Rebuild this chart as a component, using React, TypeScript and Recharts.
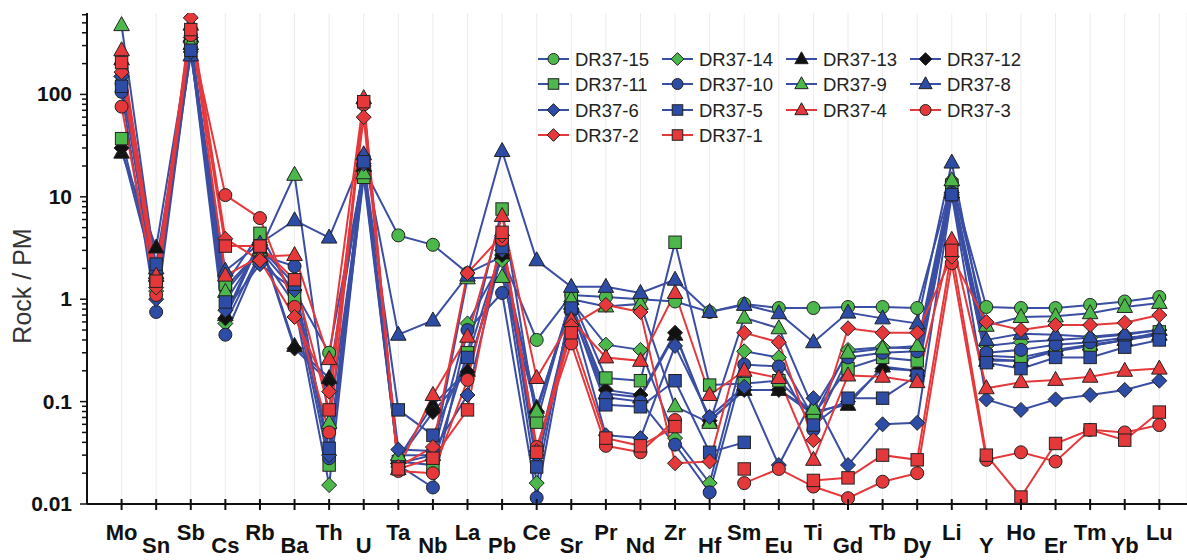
import { LineChart, Line, XAxis, YAxis, CartesianGrid } from "recharts";

const elements = ["Mo","Sn","Sb","Cs","Rb","Ba","Th","U","Ta","Nb","La","Pb","Ce","Sr","Pr","Nd","Zr","Hf","Sm","Eu","Ti","Gd","Tb","Dy","Li","Y","Ho","Er","Tm","Yb","Lu"];

const dr37_15 = [128, 1.4, 330, 1.3, 3.0, 1.2, 0.3, 19, 4.2, 3.4, 1.8, 2.6, 0.4, 1.1, 1.05, 1.0, 0.95, 0.75, 0.9, 0.82, 0.82, 0.84, 0.84, 0.82, 14, 0.84, 0.82, 0.82, 0.88, 0.95, 1.05];
const dr37_14 = [150, 1.2, 320, 0.58, 2.8, 0.9, 0.0153, 18, 0.025, 0.03, 0.58, 2.4, 0.016, 0.95, 0.36, 0.32, 0.044, 0.016, 0.31, 0.27, 0.07, 0.32, 0.34, 0.33, 13, 0.35, 0.38, 0.4, 0.42, 0.45, 0.5];
const dr37_13 = [27, 3.2, 370, 0.7, 3.8, 0.35, 0.17, 20, 0.028, 0.093, 0.2, 2.8, 0.087, 0.9, 0.12, 0.11, 0.45, 0.065, 0.13, 0.13, 0.08, 0.093, 0.22, 0.2, 11, 0.25, 0.25, 0.32, 0.36, 0.4, 0.45];
const dr37_12 = [30, 1.5, 360, 0.65, 3.6, 0.33, 0.155, 20, 0.027, 0.079, 0.195, 2.7, 0.08, 0.9, 0.13, 0.116, 0.47, 0.065, 0.13, 0.13, 0.075, 0.1, 0.21, 0.2, 11, 0.26, 0.25, 0.31, 0.35, 0.4, 0.45];
const dr37_11 = [37, 1.6, 300, 1.4, 4.4, 1.03, 0.024, 15.5, 0.026, 0.024, 0.3, 7.6, 0.063, 1.05, 0.17, 0.16, 3.6, 0.145, 0.15, 0.16, 0.075, 0.21, 0.27, 0.25, 13, 0.28, 0.27, 0.32, 0.35, 0.4, 0.48];
const dr37_10 = [106, 0.75, 280, 0.45, 2.7, 2.1, 0.028, 24, 0.024, 0.0145, 0.5, 1.15, 0.0115, 0.78, 0.11, 0.1, 0.038, 0.013, 0.23, 0.22, 0.053, 0.27, 0.3, 0.31, 11, 0.3, 0.32, 0.36, 0.38, 0.42, 0.45];
const dr37_9 = [475, 1.8, 310, 1.18, 3.0, 16.4, 0.062, 17, 0.03, 0.03, 1.6, 1.65, 0.08, 1.0, 0.85, 0.9, 0.09, 0.062, 0.66, 0.52, 0.085, 0.3, 0.33, 0.35, 14.5, 0.55, 0.67, 0.68, 0.73, 0.84, 0.92];
const dr37_8 = [220, 2.0, 240, 1.9, 3.5, 5.9, 4.0, 26, 0.45, 0.62, 1.7, 28, 2.4, 1.32, 1.32, 1.15, 1.55, 0.75, 0.88, 0.73, 0.38, 0.74, 0.65, 0.58, 21.6, 0.4, 0.46, 0.45, 0.43, 0.46, 0.5];
const dr37_6 = [150, 1.0, 260, 0.78, 2.2, 1.23, 0.03, 21, 0.034, 0.033, 0.116, 3.0, 0.03, 0.75, 0.047, 0.044, 0.35, 0.071, 0.14, 0.024, 0.108, 0.024, 0.06, 0.062, 10.5, 0.105, 0.083, 0.105, 0.116, 0.13, 0.16];
const dr37_5 = [120, 2.2, 270, 0.94, 3.2, 1.4, 0.035, 22, 0.083, 0.047, 0.27, 3.2, 0.023, 0.82, 0.093, 0.089, 0.16, 0.032, 0.04, null, 0.059, 0.108, 0.108, 0.18, 10.5, 0.24, 0.21, 0.27, 0.27, 0.34, 0.4];
const dr37_4 = [270, 1.7, 480, 1.7, 2.6, 2.7, 0.26, 92, 0.022, 0.116, 0.43, 6.5, 0.17, 0.63, 0.27, 0.25, 1.15, 0.116, 0.2, 0.17, 0.027, 0.18, 0.175, 0.155, 3.8, 0.135, 0.155, 0.163, 0.175, 0.2, 0.21];
const dr37_3 = [76, 1.1, 380, 10.4, 6.2, 0.84, 0.05, 80, 0.021, 0.02, 0.163, 3.8, 0.036, 0.37, 0.037, 0.032, 0.066, null, 0.016, 0.022, 0.0148, 0.0114, 0.0165, 0.02, 2.25, 0.027, 0.032, 0.026, 0.053, 0.05, 0.059];
const dr37_2 = [165, 1.3, 560, 3.9, 2.4, 0.67, 0.125, 60, 0.023, 0.036, 1.8, 4.2, 0.033, 0.55, 0.88, 0.75, 0.025, 0.026, 0.47, 0.38, 0.042, 0.52, 0.47, 0.47, 2.6, 0.6, 0.5, 0.56, 0.56, 0.59, 0.7];
const dr37_1 = [205, 1.5, 430, 3.3, 3.3, 1.55, 0.083, 85, 0.022, 0.028, 0.083, 4.5, 0.032, 0.47, 0.044, 0.037, 0.057, null, 0.022, null, 0.017, 0.018, 0.03, 0.027, 3.0, 0.03, 0.0117, 0.039, 0.053, 0.042, 0.079];

const yMajor = [0.01, 0.1, 1, 10, 100];
const yTicks = [-2, -1, 0, 1, 2].flatMap((d) =>
  [1, 2, 3, 4, 5, 6, 7, 8, 9].map((m) => +(m * Math.pow(10, d)).toPrecision(3))
).filter((v) => v <= 600);

const BLUE = "#3a4ea3";
const RED = "#e5383b";
const GREEN = "#4cb74a";
const BFILL = "#2d4ca5";
const BLACK = "#111";

const series = [
  { name: "DR37-15", values: dr37_15, line: BLUE, fill: GREEN, shape: "circle" },
  { name: "DR37-14", values: dr37_14, line: BLUE, fill: GREEN, shape: "diamond" },
  { name: "DR37-13", values: dr37_13, line: BLUE, fill: BLACK, shape: "triangle" },
  { name: "DR37-12", values: dr37_12, line: BLUE, fill: BLACK, shape: "diamond" },
  { name: "DR37-11", values: dr37_11, line: BLUE, fill: GREEN, shape: "square" },
  { name: "DR37-10", values: dr37_10, line: BLUE, fill: BFILL, shape: "circle" },
  { name: "DR37-9", values: dr37_9, line: BLUE, fill: GREEN, shape: "triangle" },
  { name: "DR37-8", values: dr37_8, line: BLUE, fill: BFILL, shape: "triangle" },
  { name: "DR37-6", values: dr37_6, line: BLUE, fill: BFILL, shape: "diamond" },
  { name: "DR37-5", values: dr37_5, line: BLUE, fill: BFILL, shape: "square" },
  { name: "DR37-4", values: dr37_4, line: RED, fill: RED, shape: "triangle" },
  { name: "DR37-3", values: dr37_3, line: RED, fill: RED, shape: "circle" },
  { name: "DR37-2", values: dr37_2, line: RED, fill: RED, shape: "diamond" },
  { name: "DR37-1", values: dr37_1, line: RED, fill: RED, shape: "square" },
];

const data = elements.map((el, i) => {
  const row: any = { x: i + 1, el };
  series.forEach((s) => {
    row[s.name] = s.values[i];
  });
  return row;
});

const FONT = "'Liberation Sans', Arial, sans-serif";

function Marker({ shape, cx, cy, fill, s = 1 }: any) {
  const stroke = "#222";
  if (shape === "circle") {
    return <circle cx={cx} cy={cy} r={6.5 * s} fill={fill} stroke={stroke} strokeWidth={1} />;
  }
  if (shape === "square") {
    const h = 6.2 * s;
    return <rect x={cx - h} y={cy - h} width={2 * h} height={2 * h} fill={fill} stroke={stroke} strokeWidth={1} />;
  }
  if (shape === "diamond") {
    const h = 7.5 * s;
    return (
      <polygon
        points={`${cx},${cy - h} ${cx + h},${cy} ${cx},${cy + h} ${cx - h},${cy}`}
        fill={fill}
        stroke={stroke}
        strokeWidth={1}
      />
    );
  }
  const w = 7.8 * s;
  return (
    <polygon
      points={`${cx},${cy - 8.5 * s} ${cx + w},${cy + 5.5 * s} ${cx - w},${cy + 5.5 * s}`}
      fill={fill}
      stroke={stroke}
      strokeWidth={1}
    />
  );
}

const XTick = ({ x, y, payload }: any) => {
  const i = payload.value - 1;
  const upper = i % 2 === 0;
  return (
    <g>
      <line x1={x} x2={x} y1={y - 5} y2={y + 6} stroke="#111" strokeWidth={2} />
      <text
        x={x}
        y={y + (upper ? 36 : 49)}
        textAnchor="middle"
        fontFamily={FONT}
        fontWeight="bold"
        fontSize={22}
        fill="#111"
      >
        {elements[i]}
      </text>
    </g>
  );
};

const YTick = ({ x, y, payload }: any) => {
  const v = payload.value;
  const major = yMajor.some((m) => Math.abs(m - v) < 1e-9);
  return (
    <g>
      <line x1={x - (major ? 7 : 5)} x2={x} y1={y} y2={y} stroke="#111" strokeWidth={1.5} />
      {major && (
        <text
          x={x - 15}
          y={y + 7}
          textAnchor="end"
          fontFamily={FONT}
          fontWeight="bold"
          fontSize={21}
          fill="#111"
        >
          {String(v)}
        </text>
      )}
    </g>
  );
};

const legendCols = [538, 662, 786, 910];
const legendRows = [59, 84, 110, 135];

function LegendBox() {
  return (
    <svg
      width={1187}
      height={160}
      style={{ position: "absolute", left: 0, top: 0, pointerEvents: "none" }}
    >
      {series.map((s, i) => {
        const lx = legendCols[i % 4];
        const ly = legendRows[Math.floor(i / 4)];
        return (
          <g key={s.name}>
            <line x1={lx} x2={lx + 31} y1={ly} y2={ly} stroke={s.line} strokeWidth={2} />
            <Marker shape={s.shape} cx={lx + 15.5} cy={ly} fill={s.fill} s={0.85} />
            <text x={lx + 37} y={ly + 6.5} fontFamily={FONT} fontSize={18.5} fill="#222">
              {s.name}
            </text>
          </g>
        );
      })}
    </svg>
  );
}

export default function App() {
  return (
    <div style={{ position: "absolute", left: 0, top: 0, width: 1187, height: 560, background: "#fff" }}>
      <LineChart width={1187} height={560} data={data} margin={{ top: 13, right: 0, left: 0, bottom: 0 }}>
        <CartesianGrid vertical horizontal={false} stroke="#ececec" strokeWidth={1} />
        <XAxis
          dataKey="x"
          type="number"
          domain={[0, 31.8]}
          ticks={elements.map((_, i) => i + 1)}
          interval={0}
          height={56}
          tickSize={0}
          tickMargin={0}
          tickLine={false}
          axisLine={{ stroke: "#111", strokeWidth: 2 }}
          tick={<XTick />}
          allowDataOverflow
        />
        <YAxis
          scale="log"
          domain={[0.01, 624]}
          ticks={yTicks}
          interval={0}
          width={87}
          tickSize={0}
          tickMargin={0}
          tickLine={false}
          axisLine={{ stroke: "#111", strokeWidth: 2 }}
          tick={<YTick />}
          allowDataOverflow
          label={{
            content: () => (
              <text
                x={31}
                y={286}
                transform="rotate(-90 31 286)"
                textAnchor="middle"
                fontFamily={FONT}
                fontSize={25}
                fill="#333"
              >
                Rock / PM
              </text>
            ),
          }}
        />
        {series.map((s) => (
          <Line
            key={s.name}
            dataKey={s.name}
            stroke={s.line}
            strokeWidth={2}
            isAnimationActive={false}
            connectNulls={false}
            dot={(p: any) => {
              if (p.cx == null || p.cy == null || p.value == null) return <g key={`${s.name}-${p.index}`} />;
              return (
                <g key={`${s.name}-${p.index}`}>
                  <Marker shape={s.shape} cx={p.cx} cy={p.cy} fill={s.fill} />
                </g>
              );
            }}
            activeDot={false}
          />
        ))}
      </LineChart>
      <LegendBox />
    </div>
  );
}
